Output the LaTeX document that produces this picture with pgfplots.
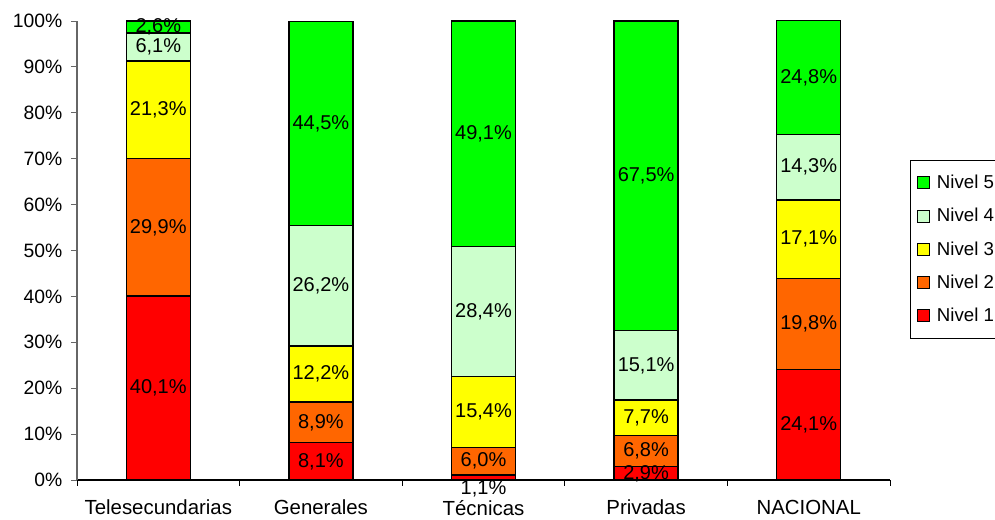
\documentclass[border=0pt]{standalone}
\usepackage{pgfplots}
\pgfplotsset{compat=1.18}
\usepackage{pgfplotstable}
\usepackage{fontspec}
\setmainfont{Liberation Sans}

\definecolor{cN1}{RGB}{255,0,0}
\definecolor{cN2}{RGB}{255,102,0}
\definecolor{cN3}{RGB}{255,255,0}
\definecolor{cN4}{RGB}{204,255,204}
\definecolor{cN5}{RGB}{0,255,0}

\pgfplotstableread{
x n1 n2 n3 n4 n5
0 40.1 29.9 21.3 6.1 2.6
1 8.1 8.9 12.2 26.2 44.5
2 1.1 6.0 15.4 28.4 49.1
3 2.9 6.8 7.7 15.1 67.5
4 24.1 19.8 17.1 14.3 24.8
}\data

\pgfplotsset{
  lbl/.style 2 args={
    fill=#1, draw=black, line width=1pt,
    point meta=explicit symbolic,
    nodes near coords={\pgfmathprintnumber[fixed,fixed zerofill,precision=1,use comma,assume math mode=true]{\pgfplotspointmeta}\%},
    every node near coord/.append style={anchor=center, font=\fontsize{15}{17}\selectfont, text=black,
      yshift={(#2*(\pgfplotspointmeta<1.5)*(-8.25))*1pt}},
  },
}

\begin{document}
\begin{tikzpicture}
\begin{axis}[
  name=ax,
  ybar stacked,
  x=121.95pt, y=3.4425pt,
  xmin=-0.5, xmax=4.5, ymin=0, ymax=100,
  bar width=48pt,
  clip=false,
  axis x line=bottom, axis y line=left,
  x axis line style={-, black, line width=0.8pt},
  y axis line style={-, gray!80!black, line width=0.8pt},
  tick align=outside,
  xtick={0,1,2,3,4},
  xticklabels={Telesecundarias,Generales,Técnicas,Privadas,NACIONAL},
  minor xtick={-0.5,0.5,1.5,2.5,3.5,4.5},
  major x tick style={draw=none},
  minor x tick style={black, line width=0.6pt},
  minor tick length=4.5pt,
  major tick length=4.5pt,
  ytick={0,10,...,100},
  yticklabels={0\%,10\%,20\%,30\%,40\%,50\%,60\%,70\%,80\%,90\%,100\%},
  y tick style={gray!80!black, line width=0.6pt},
  yticklabel style={font=\fontsize{14.5}{17}\selectfont, xshift=-3pt},
  xticklabel style={font=\fontsize{15.3}{17}\selectfont, yshift=-7pt},
  reverse legend,
  legend cell align=left,
  legend style={at={(axis description cs:1.0246,0.697)}, anchor=north west,
    draw=black, line width=0.6pt, font=\fontsize{14}{16}\selectfont,
    row sep=9.3pt, inner xsep=5pt, inner ysep=9pt},
  legend image code/.code={\draw[#1,draw=black,line width=0.8pt] (0pt,-4.5pt) rectangle (9pt,4.5pt); \path (12pt,0pt);},
]
\addplot[lbl={cN1}{1}] table[x=x,y=n1,meta=n1]{\data};
\addplot[lbl={cN2}{0}] table[x=x,y=n2,meta=n2]{\data};
\addplot[lbl={cN3}{0}] table[x=x,y=n3,meta=n3]{\data};
\addplot[lbl={cN4}{0}] table[x=x,y=n4,meta=n4]{\data};
\addplot[lbl={cN5}{0}] table[x=x,y=n5,meta=n5]{\data};
\legend{Nivel 1,Nivel 2,Nivel 3,Nivel 4,Nivel 5}
\end{axis}
\pgfresetboundingbox
\path[use as bounding box] ([shift={(-57.75pt,-30pt)}]ax.south west) rectangle ([shift={(688.5pt,360pt)}]ax.south west);
\end{tikzpicture}
\end{document}
